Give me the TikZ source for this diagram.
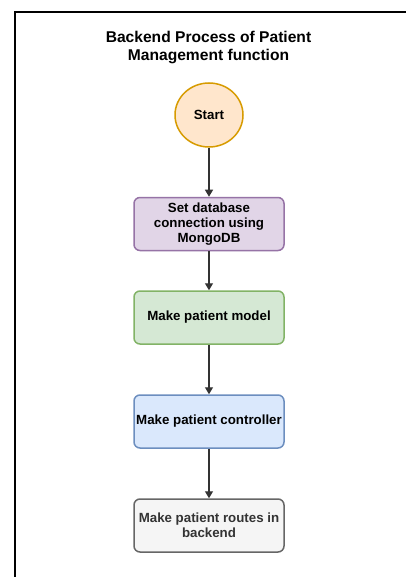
\documentclass[tikz,border=0pt]{standalone}
\usepackage{fontspec}
\setmainfont{Liberation Sans}
\usetikzlibrary{arrows.meta,shapes.geometric}
\definecolor{startfill}{HTML}{FFE6CC}
\definecolor{startdraw}{HTML}{D79B00}
\definecolor{purfill}{HTML}{E1D5E7}
\definecolor{purdraw}{HTML}{9673A6}
\definecolor{grnfill}{HTML}{D5E8D4}
\definecolor{grndraw}{HTML}{82B366}
\definecolor{blufill}{HTML}{DAE8FC}
\definecolor{bludraw}{HTML}{6C8EBF}
\definecolor{gryfill}{HTML}{F5F5F5}
\definecolor{grydraw}{HTML}{666666}
\definecolor{grytext}{HTML}{333333}
\definecolor{arrowcol}{HTML}{333333}
\begin{document}
\begin{tikzpicture}[x=1pt,y=-1pt,
  stepbox/.style={rectangle, rounded corners=6pt, line width=1.5pt, minimum width=150pt, minimum height=53pt, inner sep=0pt, align=center, font=\fontsize{13.3}{15}\selectfont\bfseries},
  conn/.style={draw=arrowcol, line width=1.3pt, -{Triangle[length=7pt,width=8pt]}}]
\useasboundingbox (0,0) rectangle (405,577);
\fill[white] (0,0) rectangle (405,577);
\draw[line width=1.5pt, black] (15,590) -- (15,12) -- (420,12);
\node (title) at (208.5,48) [align=center, font=\fontsize{15.6}{18}\selectfont\bfseries] {Backend Process of Patient\\Management function};
\node (start) at (209,115) [ellipse, minimum width=68pt, minimum height=64pt, inner sep=0pt, fill=startfill, draw=startdraw, line width=1.5pt, font=\fontsize{13.3}{15}\selectfont\bfseries] {Start};
\node (db) at (209,224) [stepbox, fill=purfill, draw=purdraw] {Set database\\connection using\\MongoDB};
\node (model) at (209,317.5) [stepbox, fill=grnfill, draw=grndraw] {Make patient model};
\node (ctrl) at (209,421.5) [stepbox, fill=blufill, draw=bludraw] {Make patient controller};
\node (routes) at (209,525.5) [stepbox, fill=gryfill, draw=grydraw, text=grytext] {Make patient routes in\\backend};
\draw[conn] (start) -- (db);
\draw[conn] (db) -- (model);
\draw[conn] (model) -- (ctrl);
\draw[conn] (ctrl) -- (routes);
\end{tikzpicture}
\end{document}
